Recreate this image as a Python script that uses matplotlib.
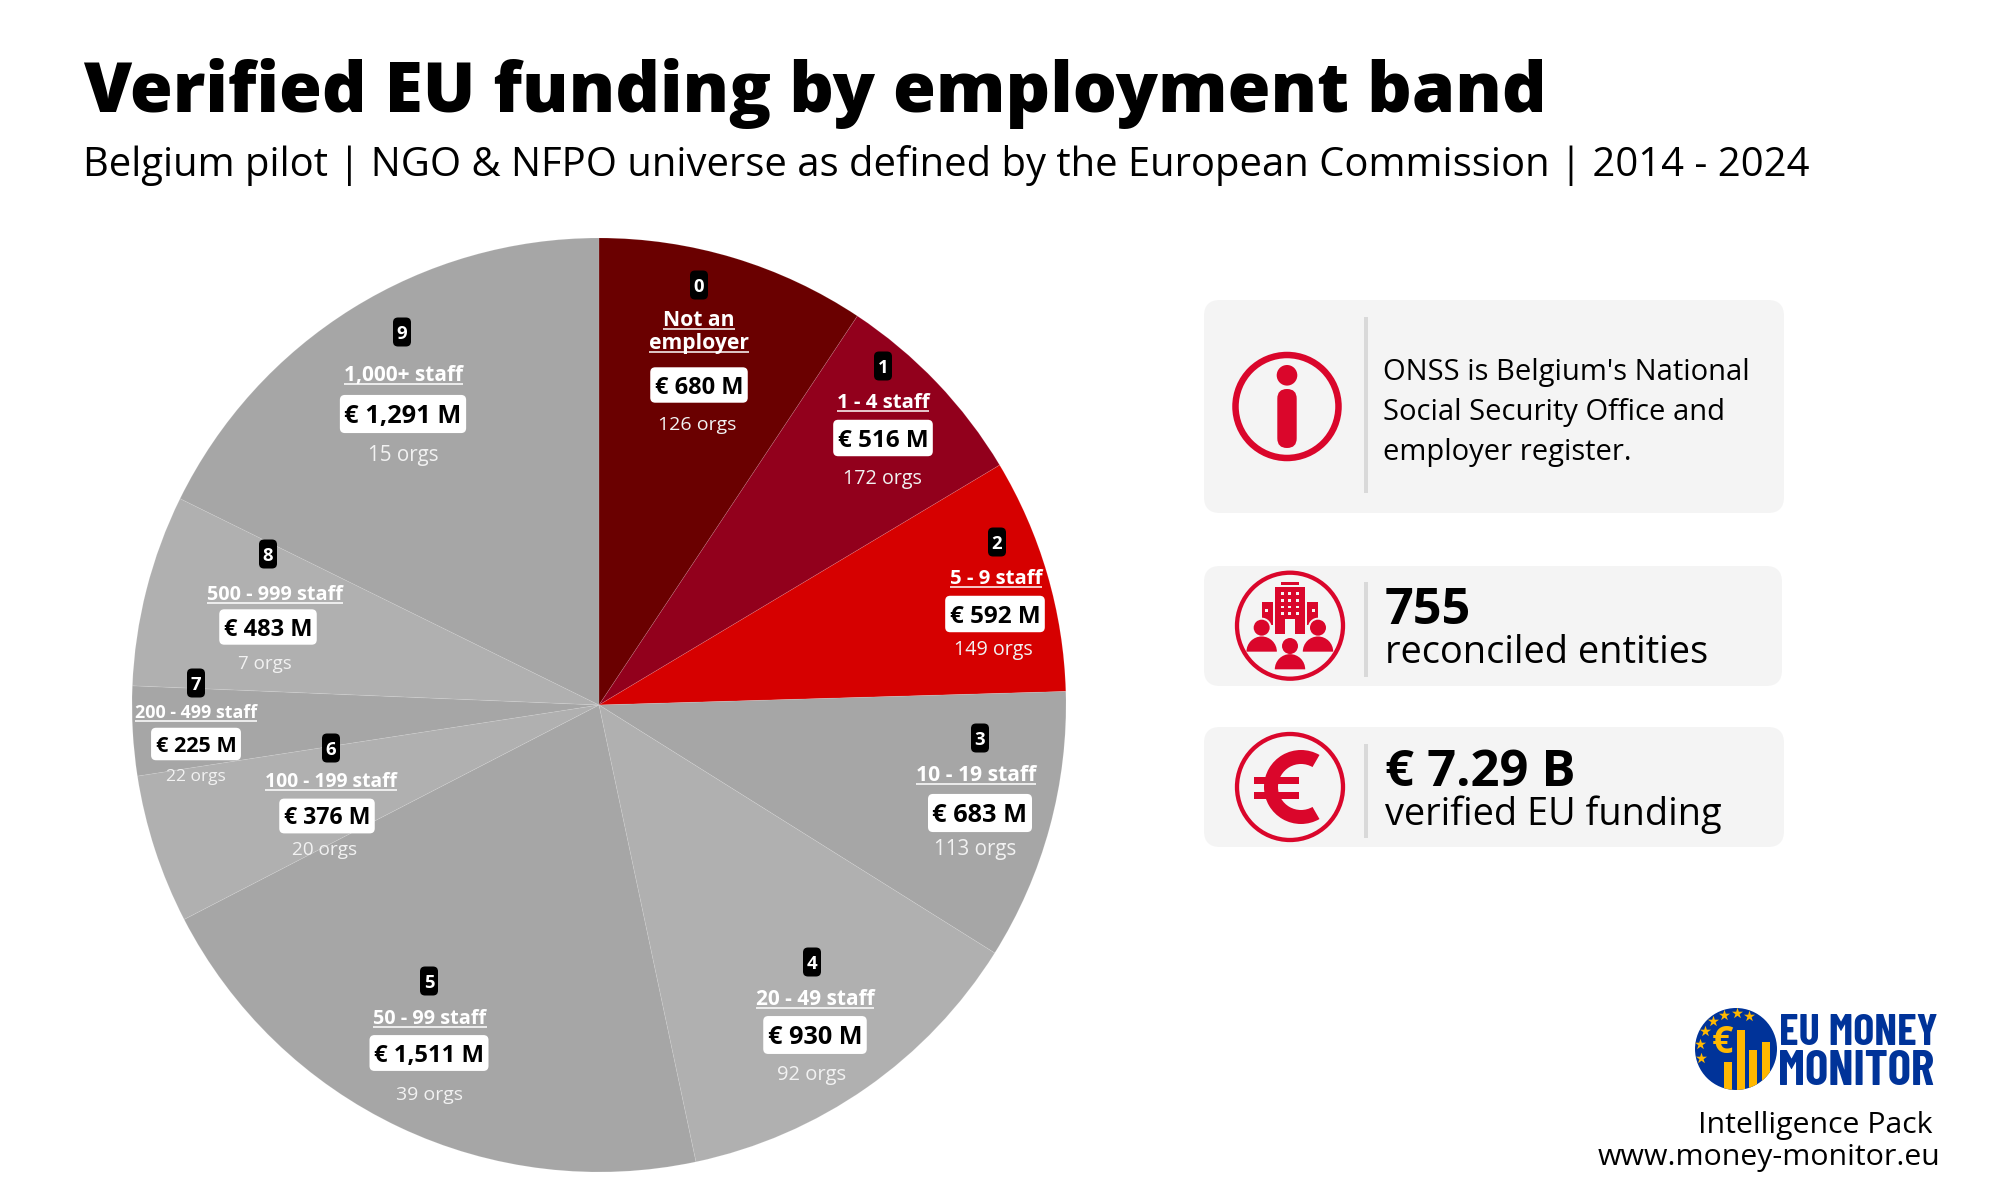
import matplotlib
matplotlib.use('Agg')
import matplotlib.pyplot as plt
from matplotlib.patches import Circle, FancyBboxPatch, Rectangle, Wedge
import numpy as np

plt.rcParams['font.family'] = ['Open Sans', 'DejaVu Sans']

# data
bands = ['Not an\nemployer', '1 - 4 staff', '5 - 9 staff', '10 - 19 staff', '20 - 49 staff',
         '50 - 99 staff', '100 - 199 staff', '200 - 499 staff', '500 - 999 staff', '1,000+ staff']
funding = [680, 516, 592, 683, 930, 1511, 376, 225, 483, 1291]
orgs = [126, 172, 149, 113, 92, 39, 20, 22, 7, 15]
colors = ['#6a0000', '#92001c', '#d60000', '#a6a6a6', '#b0b0b0',
          '#a6a6a6', '#b0b0b0', '#a6a6a6', '#b0b0b0', '#a6a6a6']

# label layout, in picture pixels
badge_xy = [(699, 285), (883, 366), (997, 542), (980, 738), (812, 962),
            (429, 981), (331, 748), (196, 683), (268, 554), (402, 332)]
label_xy = [(699, 349), (883, 408), (996, 584), (976, 781), (815, 1005),
            (430, 1024), (331, 787), (196, 718), (275, 600), (403, 381)]
pill_xy = [(699, 385), (883, 438), (995, 614), (980, 813), (815, 1035),
           (429, 1053), (327, 816), (196, 744), (268, 627), (403, 414)]
orgs_xy = [(697, 425), (882, 479), (993, 650), (975, 850), (812, 1075),
           (429, 1095), (325, 850), (196, 777), (265, 664), (403, 455)]
label_size = [15.2, 14.7, 14.7, 15.2, 15, 14.3, 13.9, 12.9, 14.3, 15]
pill_size = [17, 17.5, 17.5, 18.3, 18.2, 17.2, 16.7, 15.6, 17, 18.3]
orgs_size = [14, 14.2, 14.2, 14.8, 14.5, 14, 13.7, 12.5, 13.5, 14.8]

RED = '#da062b'
CARD = '#f4f4f4'
H = 1200


def Y(y):
    return H - y


fig = plt.figure(figsize=(20, 12), dpi=100)
ax = fig.add_axes([0, 0, 1, 1])
ax.pie(funding, colors=colors, startangle=90, counterclock=False, center=(599, Y(705)),
       radius=467, frame=True, wedgeprops={'edgecolor': (1, 1, 1, 0.12), 'linewidth': 0.6})
ax.set_xlim(0, 2000)
ax.set_ylim(0, H)
ax.axis('off')

# title
ax.text(83, Y(112), 'Verified EU funding by employment band', fontsize=50, fontweight=800, va='baseline')
ax.text(83, Y(176), 'Belgium pilot | NGO & NFPO universe as defined by the European Commission | 2014 - 2024',
        fontsize=28.8, va='baseline')

fig.canvas.draw()
rend = fig.canvas.get_renderer()


def rbox(xc, yc, w, h, r, fc, z):
    ax.add_patch(FancyBboxPatch((xc - w / 2 + r, Y(yc) - h / 2 + r), w - 2 * r, h - 2 * r,
                                boxstyle=f'round,pad={r},rounding_size={r}', fc=fc, ec='none', zorder=z))


# slice labels
for i in range(len(bands)):
    rbox(badge_xy[i][0], badge_xy[i][1], 18, 29, 5, 'black', 5)
    ax.text(badge_xy[i][0], Y(badge_xy[i][1] + 6.7), str(i), color='white', fontsize=13.3, fontweight='bold',
            ha='center', va='baseline', zorder=6)

    lines = bands[i].split('\n')
    for k, line in enumerate(lines):
        yy = label_xy[i][1] - 23 * (len(lines) - 1 - k)
        t = ax.text(label_xy[i][0], Y(yy), line, color='white', fontsize=label_size[i],
                    fontweight='bold', ha='center', va='baseline', zorder=6)
        bb = t.get_window_extent(rend)
        ax.plot([bb.x0, bb.x1], [Y(yy + 3.2), Y(yy + 3.2)], color='white', lw=1.1,
                solid_capstyle='butt', zorder=6)

    em = pill_size[i] * 100 / 72
    t = ax.text(pill_xy[i][0], Y(pill_xy[i][1] + 0.36 * em), f'€ {funding[i]:,} M', color='black',
                fontsize=pill_size[i], fontweight='bold', ha='center', va='baseline', zorder=6)
    bb = t.get_window_extent(rend)
    rbox(pill_xy[i][0], pill_xy[i][1], bb.width + 9, 1.5 * em, 5, 'white', 5)

    ax.text(orgs_xy[i][0], Y(orgs_xy[i][1]), f'{orgs[i]} orgs', color='#f2f2f2', fontsize=orgs_size[i],
            ha='center', va='center', zorder=6)


# cards
def card(x0, x1, y0, y1):
    rbox((x0 + x1) / 2, (y0 + y1) / 2, x1 - x0, y1 - y0, 16, CARD, 2)


def divider(y0, y1):
    ax.add_patch(Rectangle((1364.3, Y(y1)), 4, y1 - y0, fc='#d9d9d9', ec='none', zorder=3))


def ring(cx, cy, r, w):
    ax.add_patch(Circle((cx, Y(cy)), r, fc='none', ec=RED, lw=w * 0.72, zorder=3))


card(1204, 1784, 300, 513)
card(1204, 1782, 566, 686)
card(1204, 1784, 727, 847)
divider(317, 493)
divider(582, 677)
divider(744, 838)

# info icon
ring(1287, 406.5, 51.5, 6.5)
ax.add_patch(Circle((1287, Y(375.3)), 10.3, fc=RED, ec='none', zorder=4))
rbox(1287, 418.5, 19.4, 59, 9.6, RED, 4)
for txt, yy in zip(["ONSS is Belgium's National", 'Social Security Office and', 'employer register.'],
                   [380, 420, 460]):
    ax.text(1383, Y(yy), txt, fontsize=21, va='baseline', zorder=4)


# building and people icon, coordinates read in a 3x crop
def zx(v):
    return 1190 + v / 3


def zy(v):
    return Y(550 + v / 3)


def zrect(x0, y0, x1, y1, fc=RED):
    ax.add_patch(Rectangle((zx(x0), zy(y1)), (x1 - x0) / 3, (y1 - y0) / 3, fc=fc, ec='none', zorder=4))


ring(1290, 625.7, 53, 4.3)
zrect(256, 112, 344, 252)
zrect(273, 96, 327, 104)
zrect(285, 208, 315, 252, CARD)
for wx in [277, 299, 322]:
    for wy in [131, 151, 171, 191]:
        zrect(wx - 5, wy - 4, wx + 5, wy + 4, CARD)
zrect(215, 156, 248, 225)
zrect(352, 156, 385, 225)
zrect(225, 176, 235, 186, CARD)
zrect(365, 176, 375, 186, CARD)
for hx, hy, sy in [(215, 233, 305), (384, 233, 305), (300, 288, 358)]:
    ax.add_patch(Circle((zx(hx), zy(hy)), 10, fc=CARD, ec='none', zorder=4))
    ax.add_patch(Circle((zx(hx), zy(hy)), 8, fc=RED, ec='none', zorder=4))
    ax.add_patch(Wedge((zx(hx), zy(sy)), 15.2, 0, 180, fc=RED, ec='none', zorder=4))
ax.text(1385, Y(624.5), '755', fontsize=36.3, fontweight='bold', va='baseline', zorder=4)
ax.text(1385, Y(662.7), 'reconciled entities', fontsize=27.4, va='baseline', zorder=4)

# euro icon, drawn like the other icons
ring(1290, 787, 53, 4.3)
ax.add_patch(Wedge((zx(333), zy(711)), 37, 60, 300, width=14, fc=RED, ec='none', zorder=4))
zrect(193, 680, 328, 703)
zrect(193, 725, 328, 747)
ax.text(1385, Y(786), '€ 7.29 B', fontsize=36.5, fontweight='bold', va='baseline', zorder=4)
ax.text(1385, Y(825), 'verified EU funding', fontsize=27.3, va='baseline', zorder=4)

# logo
lcx, lcy, lr = 1736, 1049, 41
disc = Circle((lcx, Y(lcy)), lr, fc='#003399', ec='none', zorder=3)
ax.add_patch(disc)
star_ang = [88, 110, 68, 130, 150, 172, 195]
ax.scatter([lcx + 36 * np.cos(np.radians(a)) for a in star_ang],
           [Y(lcy) + 36 * np.sin(np.radians(a)) for a in star_ang],
           marker='*', s=70, color='#ffb800', linewidths=0, zorder=4)
for x0, y0 in [(432, 215), (470, 120), (507, 180), (545, 155)]:
    b = Rectangle((1580 + x0 / 3, Y(1095)), 25 / 3, 1095 - (990 + y0 / 3), fc='#ffb800', ec='none', zorder=4)
    ax.add_patch(b)
    b.set_clip_path(disc)
ax.text(1722, Y(1043), '€', color='#ffb800', fontsize=27, fontweight='bold', ha='center', va='center', zorder=4)
logo_font = ['Barlow Condensed', 'Open Sans', 'DejaVu Sans']
ax.text(1779, Y(1045), 'EU MONEY', color='#003399', fontsize=32, fontweight='bold', va='baseline',
        family=logo_font, zorder=4)
ax.text(1778, Y(1085), 'MONITOR', color='#003399', fontsize=35.5, fontweight='bold', va='baseline',
        family=logo_font, zorder=4)
ax.text(1933, Y(1133), 'Intelligence Pack', fontsize=21.8, ha='right', va='baseline')
ax.text(1940, Y(1165), 'www.money-monitor.eu', fontsize=21.8, ha='right', va='baseline')

fig.savefig('out.png', dpi=100)
